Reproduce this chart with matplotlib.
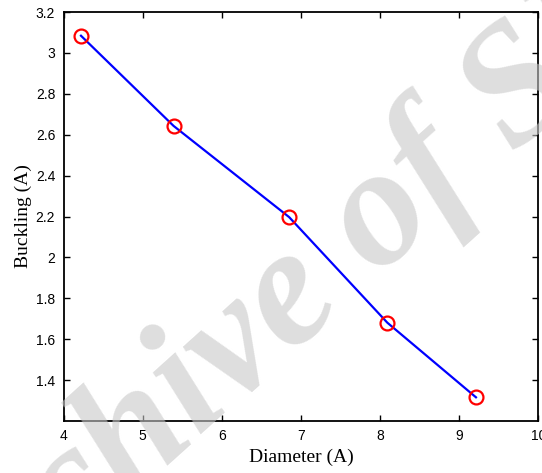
import matplotlib
matplotlib.use("Agg")
import matplotlib.pyplot as plt

diameter = [4.22, 5.39, 6.85, 8.09, 9.21]
buckling = [3.084, 2.643, 2.197, 1.681, 1.316]
xticks = [4, 5, 6, 7, 8, 9, 10]
yticks = [1.4, 1.6, 1.8, 2.0, 2.2, 2.4, 2.6, 2.8, 3.0, 3.2]
ytick_labels = ["1.4", "1.6", "1.8", "2", "2.2", "2.4", "2.6", "2.8", "3", "3.2"]

fig = plt.figure(figsize=(5.42, 4.73), dpi=100)
ax = fig.add_axes([0.1173, 0.1099, 0.8762, 0.8647])

ax.plot(diameter, buckling, color="#0000ff", lw=1.6, zorder=3)
ax.plot(diameter, buckling, ls="none", marker="o", ms=10, mfc="none",
        mec="#ff0000", mew=1.6, zorder=4)

ax.set_xlim(4, 10)
ax.set_ylim(1.2, 3.2)
ax.set_xticks(xticks)
ax.set_xticklabels([str(t) for t in xticks])
ax.set_yticks(yticks)
ax.set_yticklabels(ytick_labels)
ax.tick_params(direction="in", length=4, width=1, top=True, right=True,
               labelsize=10, pad=6)
for lab in ax.get_xticklabels() + ax.get_yticklabels():
    lab.set_family("Liberation Sans")
for s in ax.spines.values():
    s.set_linewidth(1.3)

ax.set_xlabel("Diameter (A)", family="Liberation Serif", fontsize=14, labelpad=4)
ax.set_ylabel("Buckling (A)", family="Liberation Serif", fontsize=14, labelpad=3)

fig.text(0.618, 0.316, "Archive of SID", fontsize=122, family="Liberation Serif",
         style="italic", weight="bold", color="#c8c8c8", alpha=0.6, rotation=42,
         rotation_mode="anchor", ha="center", va="baseline", zorder=10)

fig.savefig("out.png", dpi=100)
